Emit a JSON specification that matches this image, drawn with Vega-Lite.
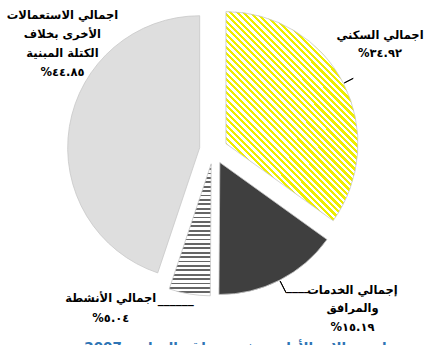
{
  "$schema": "https://vega.github.io/schema/vega-lite/v6.json",
  "width": 427,
  "height": 300,
  "autosize": {"type": "none"},
  "padding": {"left": 0, "top": 0, "right": 0, "bottom": 45},
  "background": "white",
  "config": {"view": {"stroke": null}},
  "title": {
    "text": "توزيع استعمالات الأراضي في منطقة الدراسة 2007",
    "orient": "bottom",
    "anchor": "end",
    "offset": 8,
    "font": "DejaVu Sans",
    "fontSize": 13.5,
    "fontWeight": "bold",
    "color": "#2f75b5"
  },
  "data": {
    "values": [
      {"name": "اجمالي السكني", "value": 34.92},
      {"name": "إجمالي الخدمات والمرافق", "value": 15.19},
      {"name": "اجمالي الأنشطة", "value": 5.04},
      {"name": "اجمالي الاستعمالات الأخرى بخلاف الكتلة المبنية", "value": 44.85}
    ]
  },
  "transform": [
    {"window": [{"op": "sum", "field": "value", "as": "v1"}], "frame": [null, 0]},
    {"calculate": "datum.v1 - datum.value", "as": "v0"},
    {"calculate": "(datum.v0 + datum.v1) / 2", "as": "mid"},
    {"calculate": "'%' + replace(replace(replace(replace(replace(replace(replace(replace(replace(replace(format(datum.value, '.2f'), regexp('0','g'), '٠'), regexp('1','g'), '١'), regexp('2','g'), '٢'), regexp('3','g'), '٣'), regexp('4','g'), '٤'), regexp('5','g'), '٥'), regexp('6','g'), '٦'), regexp('7','g'), '٧'), regexp('8','g'), '٨'), regexp('9','g'), '٩')", "as": "pct"}
  ],
  "layer": [
    {
      "mark": {
        "type": "arc",
        "radius": 132,
        "stroke": "#c8c8c8",
        "strokeWidth": 0.8,
        "xOffset": {"expr": "14 * sin(PI * (datum.v0 + datum.v1) / 100)"},
        "yOffset": {"expr": "-14 * cos(PI * (datum.v0 + datum.v1) / 100)"}
      },
      "encoding": {
        "theta": {"field": "v0", "type": "quantitative", "scale": {"domain": [0, 100]}},
        "theta2": {"field": "v1"},
        "color": {
          "condition": [
            {
              "test": "datum.name === 'اجمالي السكني'",
              "value": {
                "gradient": "linear", "x1": 0.632, "y1": 0, "x2": 0, "y2": 1,
                "stops": [
                  {"offset":0,"color":"#eded00"},{"offset":0.0111,"color":"#eded00"},{"offset":0.0111,"color":"#fff"},{"offset":0.0222,"color":"#fff"},
                  {"offset":0.0222,"color":"#eded00"},{"offset":0.0333,"color":"#eded00"},{"offset":0.0333,"color":"#fff"},{"offset":0.0444,"color":"#fff"},
                  {"offset":0.0444,"color":"#eded00"},{"offset":0.0556,"color":"#eded00"},{"offset":0.0556,"color":"#fff"},{"offset":0.0667,"color":"#fff"},
                  {"offset":0.0667,"color":"#eded00"},{"offset":0.0778,"color":"#eded00"},{"offset":0.0778,"color":"#fff"},{"offset":0.0889,"color":"#fff"},
                  {"offset":0.0889,"color":"#eded00"},{"offset":0.1,"color":"#eded00"},{"offset":0.1,"color":"#fff"},{"offset":0.1111,"color":"#fff"},
                  {"offset":0.1111,"color":"#eded00"},{"offset":0.1222,"color":"#eded00"},{"offset":0.1222,"color":"#fff"},{"offset":0.1333,"color":"#fff"},
                  {"offset":0.1333,"color":"#eded00"},{"offset":0.1444,"color":"#eded00"},{"offset":0.1444,"color":"#fff"},{"offset":0.1556,"color":"#fff"},
                  {"offset":0.1556,"color":"#eded00"},{"offset":0.1667,"color":"#eded00"},{"offset":0.1667,"color":"#fff"},{"offset":0.1778,"color":"#fff"},
                  {"offset":0.1778,"color":"#eded00"},{"offset":0.1889,"color":"#eded00"},{"offset":0.1889,"color":"#fff"},{"offset":0.2,"color":"#fff"},
                  {"offset":0.2,"color":"#eded00"},{"offset":0.2111,"color":"#eded00"},{"offset":0.2111,"color":"#fff"},{"offset":0.2222,"color":"#fff"},
                  {"offset":0.2222,"color":"#eded00"},{"offset":0.2333,"color":"#eded00"},{"offset":0.2333,"color":"#fff"},{"offset":0.2444,"color":"#fff"},
                  {"offset":0.2444,"color":"#eded00"},{"offset":0.2556,"color":"#eded00"},{"offset":0.2556,"color":"#fff"},{"offset":0.2667,"color":"#fff"},
                  {"offset":0.2667,"color":"#eded00"},{"offset":0.2778,"color":"#eded00"},{"offset":0.2778,"color":"#fff"},{"offset":0.2889,"color":"#fff"},
                  {"offset":0.2889,"color":"#eded00"},{"offset":0.3,"color":"#eded00"},{"offset":0.3,"color":"#fff"},{"offset":0.3111,"color":"#fff"},
                  {"offset":0.3111,"color":"#eded00"},{"offset":0.3222,"color":"#eded00"},{"offset":0.3222,"color":"#fff"},{"offset":0.3333,"color":"#fff"},
                  {"offset":0.3333,"color":"#eded00"},{"offset":0.3444,"color":"#eded00"},{"offset":0.3444,"color":"#fff"},{"offset":0.3556,"color":"#fff"},
                  {"offset":0.3556,"color":"#eded00"},{"offset":0.3667,"color":"#eded00"},{"offset":0.3667,"color":"#fff"},{"offset":0.3778,"color":"#fff"},
                  {"offset":0.3778,"color":"#eded00"},{"offset":0.3889,"color":"#eded00"},{"offset":0.3889,"color":"#fff"},{"offset":0.4,"color":"#fff"},
                  {"offset":0.4,"color":"#eded00"},{"offset":0.4111,"color":"#eded00"},{"offset":0.4111,"color":"#fff"},{"offset":0.4222,"color":"#fff"},
                  {"offset":0.4222,"color":"#eded00"},{"offset":0.4333,"color":"#eded00"},{"offset":0.4333,"color":"#fff"},{"offset":0.4444,"color":"#fff"},
                  {"offset":0.4444,"color":"#eded00"},{"offset":0.4556,"color":"#eded00"},{"offset":0.4556,"color":"#fff"},{"offset":0.4667,"color":"#fff"},
                  {"offset":0.4667,"color":"#eded00"},{"offset":0.4778,"color":"#eded00"},{"offset":0.4778,"color":"#fff"},{"offset":0.4889,"color":"#fff"},
                  {"offset":0.4889,"color":"#eded00"},{"offset":0.5,"color":"#eded00"},{"offset":0.5,"color":"#fff"},{"offset":0.5111,"color":"#fff"},
                  {"offset":0.5111,"color":"#eded00"},{"offset":0.5222,"color":"#eded00"},{"offset":0.5222,"color":"#fff"},{"offset":0.5333,"color":"#fff"},
                  {"offset":0.5333,"color":"#eded00"},{"offset":0.5444,"color":"#eded00"},{"offset":0.5444,"color":"#fff"},{"offset":0.5556,"color":"#fff"},
                  {"offset":0.5556,"color":"#eded00"},{"offset":0.5667,"color":"#eded00"},{"offset":0.5667,"color":"#fff"},{"offset":0.5778,"color":"#fff"},
                  {"offset":0.5778,"color":"#eded00"},{"offset":0.5889,"color":"#eded00"},{"offset":0.5889,"color":"#fff"},{"offset":0.6,"color":"#fff"},
                  {"offset":0.6,"color":"#eded00"},{"offset":0.6111,"color":"#eded00"},{"offset":0.6111,"color":"#fff"},{"offset":0.6222,"color":"#fff"},
                  {"offset":0.6222,"color":"#eded00"},{"offset":0.6333,"color":"#eded00"},{"offset":0.6333,"color":"#fff"},{"offset":0.6444,"color":"#fff"},
                  {"offset":0.6444,"color":"#eded00"},{"offset":0.6556,"color":"#eded00"},{"offset":0.6556,"color":"#fff"},{"offset":0.6667,"color":"#fff"},
                  {"offset":0.6667,"color":"#eded00"},{"offset":0.6778,"color":"#eded00"},{"offset":0.6778,"color":"#fff"},{"offset":0.6889,"color":"#fff"},
                  {"offset":0.6889,"color":"#eded00"},{"offset":0.7,"color":"#eded00"},{"offset":0.7,"color":"#fff"},{"offset":0.7111,"color":"#fff"},
                  {"offset":0.7111,"color":"#eded00"},{"offset":0.7222,"color":"#eded00"},{"offset":0.7222,"color":"#fff"},{"offset":0.7333,"color":"#fff"},
                  {"offset":0.7333,"color":"#eded00"},{"offset":0.7444,"color":"#eded00"},{"offset":0.7444,"color":"#fff"},{"offset":0.7556,"color":"#fff"},
                  {"offset":0.7556,"color":"#eded00"},{"offset":0.7667,"color":"#eded00"},{"offset":0.7667,"color":"#fff"},{"offset":0.7778,"color":"#fff"},
                  {"offset":0.7778,"color":"#eded00"},{"offset":0.7889,"color":"#eded00"},{"offset":0.7889,"color":"#fff"},{"offset":0.8,"color":"#fff"},
                  {"offset":0.8,"color":"#eded00"},{"offset":0.8111,"color":"#eded00"},{"offset":0.8111,"color":"#fff"},{"offset":0.8222,"color":"#fff"},
                  {"offset":0.8222,"color":"#eded00"},{"offset":0.8333,"color":"#eded00"},{"offset":0.8333,"color":"#fff"},{"offset":0.8444,"color":"#fff"},
                  {"offset":0.8444,"color":"#eded00"},{"offset":0.8556,"color":"#eded00"},{"offset":0.8556,"color":"#fff"},{"offset":0.8667,"color":"#fff"},
                  {"offset":0.8667,"color":"#eded00"},{"offset":0.8778,"color":"#eded00"},{"offset":0.8778,"color":"#fff"},{"offset":0.8889,"color":"#fff"},
                  {"offset":0.8889,"color":"#eded00"},{"offset":0.9,"color":"#eded00"},{"offset":0.9,"color":"#fff"},{"offset":0.9111,"color":"#fff"},
                  {"offset":0.9111,"color":"#eded00"},{"offset":0.9222,"color":"#eded00"},{"offset":0.9222,"color":"#fff"},{"offset":0.9333,"color":"#fff"},
                  {"offset":0.9333,"color":"#eded00"},{"offset":0.9444,"color":"#eded00"},{"offset":0.9444,"color":"#fff"},{"offset":0.9556,"color":"#fff"},
                  {"offset":0.9556,"color":"#eded00"},{"offset":0.9667,"color":"#eded00"},{"offset":0.9667,"color":"#fff"},{"offset":0.9778,"color":"#fff"},
                  {"offset":0.9778,"color":"#eded00"},{"offset":0.9889,"color":"#eded00"},{"offset":0.9889,"color":"#fff"},{"offset":1,"color":"#fff"}
                ]
              }
            },
            {"test": "datum.name === 'إجمالي الخدمات والمرافق'", "value": "#3f3f3f"},
            {
              "test": "datum.name === 'اجمالي الأنشطة'",
              "value": {
                "gradient": "linear", "x1": 0, "y1": 0, "x2": 0, "y2": 1,
                "stops": [
                  {"offset":0,"color":"#666"},{"offset":0.0133,"color":"#666"},{"offset":0.0133,"color":"#fff"},{"offset":0.0333,"color":"#fff"},
                  {"offset":0.0333,"color":"#666"},{"offset":0.0467,"color":"#666"},{"offset":0.0467,"color":"#fff"},{"offset":0.0667,"color":"#fff"},
                  {"offset":0.0667,"color":"#666"},{"offset":0.08,"color":"#666"},{"offset":0.08,"color":"#fff"},{"offset":0.1,"color":"#fff"},
                  {"offset":0.1,"color":"#666"},{"offset":0.1133,"color":"#666"},{"offset":0.1133,"color":"#fff"},{"offset":0.1333,"color":"#fff"},
                  {"offset":0.1333,"color":"#666"},{"offset":0.1467,"color":"#666"},{"offset":0.1467,"color":"#fff"},{"offset":0.1667,"color":"#fff"},
                  {"offset":0.1667,"color":"#666"},{"offset":0.18,"color":"#666"},{"offset":0.18,"color":"#fff"},{"offset":0.2,"color":"#fff"},
                  {"offset":0.2,"color":"#666"},{"offset":0.2133,"color":"#666"},{"offset":0.2133,"color":"#fff"},{"offset":0.2333,"color":"#fff"},
                  {"offset":0.2333,"color":"#666"},{"offset":0.2467,"color":"#666"},{"offset":0.2467,"color":"#fff"},{"offset":0.2667,"color":"#fff"},
                  {"offset":0.2667,"color":"#666"},{"offset":0.28,"color":"#666"},{"offset":0.28,"color":"#fff"},{"offset":0.3,"color":"#fff"},
                  {"offset":0.3,"color":"#666"},{"offset":0.3133,"color":"#666"},{"offset":0.3133,"color":"#fff"},{"offset":0.3333,"color":"#fff"},
                  {"offset":0.3333,"color":"#666"},{"offset":0.3467,"color":"#666"},{"offset":0.3467,"color":"#fff"},{"offset":0.3667,"color":"#fff"},
                  {"offset":0.3667,"color":"#666"},{"offset":0.38,"color":"#666"},{"offset":0.38,"color":"#fff"},{"offset":0.4,"color":"#fff"},
                  {"offset":0.4,"color":"#666"},{"offset":0.4133,"color":"#666"},{"offset":0.4133,"color":"#fff"},{"offset":0.4333,"color":"#fff"},
                  {"offset":0.4333,"color":"#666"},{"offset":0.4467,"color":"#666"},{"offset":0.4467,"color":"#fff"},{"offset":0.4667,"color":"#fff"},
                  {"offset":0.4667,"color":"#666"},{"offset":0.48,"color":"#666"},{"offset":0.48,"color":"#fff"},{"offset":0.5,"color":"#fff"},
                  {"offset":0.5,"color":"#666"},{"offset":0.5133,"color":"#666"},{"offset":0.5133,"color":"#fff"},{"offset":0.5333,"color":"#fff"},
                  {"offset":0.5333,"color":"#666"},{"offset":0.5467,"color":"#666"},{"offset":0.5467,"color":"#fff"},{"offset":0.5667,"color":"#fff"},
                  {"offset":0.5667,"color":"#666"},{"offset":0.58,"color":"#666"},{"offset":0.58,"color":"#fff"},{"offset":0.6,"color":"#fff"},
                  {"offset":0.6,"color":"#666"},{"offset":0.6133,"color":"#666"},{"offset":0.6133,"color":"#fff"},{"offset":0.6333,"color":"#fff"},
                  {"offset":0.6333,"color":"#666"},{"offset":0.6467,"color":"#666"},{"offset":0.6467,"color":"#fff"},{"offset":0.6667,"color":"#fff"},
                  {"offset":0.6667,"color":"#666"},{"offset":0.68,"color":"#666"},{"offset":0.68,"color":"#fff"},{"offset":0.7,"color":"#fff"},
                  {"offset":0.7,"color":"#666"},{"offset":0.7133,"color":"#666"},{"offset":0.7133,"color":"#fff"},{"offset":0.7333,"color":"#fff"},
                  {"offset":0.7333,"color":"#666"},{"offset":0.7467,"color":"#666"},{"offset":0.7467,"color":"#fff"},{"offset":0.7667,"color":"#fff"},
                  {"offset":0.7667,"color":"#666"},{"offset":0.78,"color":"#666"},{"offset":0.78,"color":"#fff"},{"offset":0.8,"color":"#fff"},
                  {"offset":0.8,"color":"#666"},{"offset":0.8133,"color":"#666"},{"offset":0.8133,"color":"#fff"},{"offset":0.8333,"color":"#fff"},
                  {"offset":0.8333,"color":"#666"},{"offset":0.8467,"color":"#666"},{"offset":0.8467,"color":"#fff"},{"offset":0.8667,"color":"#fff"},
                  {"offset":0.8667,"color":"#666"},{"offset":0.88,"color":"#666"},{"offset":0.88,"color":"#fff"},{"offset":0.9,"color":"#fff"},
                  {"offset":0.9,"color":"#666"},{"offset":0.9133,"color":"#666"},{"offset":0.9133,"color":"#fff"},{"offset":0.9333,"color":"#fff"},
                  {"offset":0.9333,"color":"#666"},{"offset":0.9467,"color":"#666"},{"offset":0.9467,"color":"#fff"},{"offset":0.9667,"color":"#fff"},
                  {"offset":0.9667,"color":"#666"},{"offset":0.98,"color":"#666"},{"offset":0.98,"color":"#fff"},{"offset":1,"color":"#fff"}
                ]
              }
            }
          ],
          "value": "#dedede"
        }
      }
    },
    {
      "transform": [{"filter": "datum.name === 'اجمالي السكني'"}],
      "mark": {"type": "arc", "radius": 157, "radius2": 147, "fill": null, "stroke": "#000", "strokeWidth": 1},
      "encoding": {
        "theta": {"field": "mid", "type": "quantitative"},
        "theta2": {"field": "mid"}
      }
    },
    {
      "transform": [{"filter": "datum.name === 'إجمالي الخدمات والمرافق'"}],
      "mark": {"type": "arc", "radius": 160, "radius2": 147, "fill": null, "stroke": "#000", "strokeWidth": 1},
      "encoding": {
        "theta": {"field": "mid", "type": "quantitative"},
        "theta2": {"field": "mid"}
      }
    },
    {
      "transform": [
        {"filter": "datum.name === 'اجمالي الاستعمالات الأخرى بخلاف الكتلة المبنية'"},
        {"calculate": "[join(slice(split(datum.name, ' '), 0, 2), ' '), join(slice(split(datum.name, ' '), 2, 4), ' '), join(slice(split(datum.name, ' '), 4), ' '), datum.pct]", "as": "lines"}
      ],
      "mark": {"type": "text", "font": "DejaVu Sans", "fontWeight": "bold", "fontSize": 11.5, "lineHeight": 19, "align": "center", "baseline": "top", "radius": 150, "dx": -3, "dy": -116},
      "encoding": {
        "theta": {"field": "mid", "type": "quantitative", "stack": null},
        "text": {"field": "lines"}
      }
    },
    {
      "transform": [
        {"filter": "datum.name === 'اجمالي السكني'"},
        {"calculate": "[datum.name, datum.pct]", "as": "lines"}
      ],
      "mark": {"type": "text", "font": "DejaVu Sans", "fontWeight": "bold", "fontSize": 11.5, "lineHeight": 18, "align": "center", "baseline": "top", "radius": 150, "dx": 33, "dy": -52},
      "encoding": {
        "theta": {"field": "mid", "type": "quantitative", "stack": null},
        "text": {"field": "lines"}
      }
    },
    {
      "transform": [
        {"filter": "datum.name === 'إجمالي الخدمات والمرافق'"},
        {"calculate": "[join(slice(split(datum.name, ' '), 0, 2), ' '), join(slice(split(datum.name, ' '), 2), ' '), datum.pct]", "as": "lines"}
      ],
      "mark": {"type": "text", "font": "DejaVu Sans", "fontWeight": "bold", "fontSize": 11.5, "lineHeight": 18.5, "align": "center", "baseline": "top", "radius": 150, "dx": 71, "dy": 1},
      "encoding": {
        "theta": {"field": "mid", "type": "quantitative", "stack": null},
        "text": {"field": "lines"}
      }
    },
    {
      "transform": [
        {"filter": "datum.name === 'اجمالي الأنشطة'"},
        {"calculate": "[datum.name, datum.pct]", "as": "lines"}
      ],
      "mark": {"type": "text", "font": "DejaVu Sans", "fontWeight": "bold", "fontSize": 11.5, "lineHeight": 20, "align": "center", "baseline": "top", "radius": 150, "dx": -78, "dy": -4.5},
      "encoding": {
        "theta": {"field": "mid", "type": "quantitative", "stack": null},
        "text": {"field": "lines"}
      }
    },
    {
      "transform": [{"filter": "datum.name === 'اجمالي الأنشطة'"}],
      "mark": {"type": "text", "font": "DejaVu Sans", "fontWeight": "bold", "fontSize": 12, "align": "left", "baseline": "alphabetic", "radius": 150, "dx": -31, "dy": 5, "text": "______"},
      "encoding": {
        "theta": {"field": "mid", "type": "quantitative", "stack": null}
      }
    },
    {
      "transform": [{"filter": "datum.name === 'إجمالي الخدمات والمرافق'"}],
      "mark": {"type": "text", "font": "DejaVu Sans", "fontWeight": "bold", "fontSize": 12, "align": "left", "baseline": "alphabetic", "radius": 150, "dx": 4.5, "dy": 6, "text": "____"},
      "encoding": {
        "theta": {"field": "mid", "type": "quantitative", "stack": null}
      }
    }
  ]
}
